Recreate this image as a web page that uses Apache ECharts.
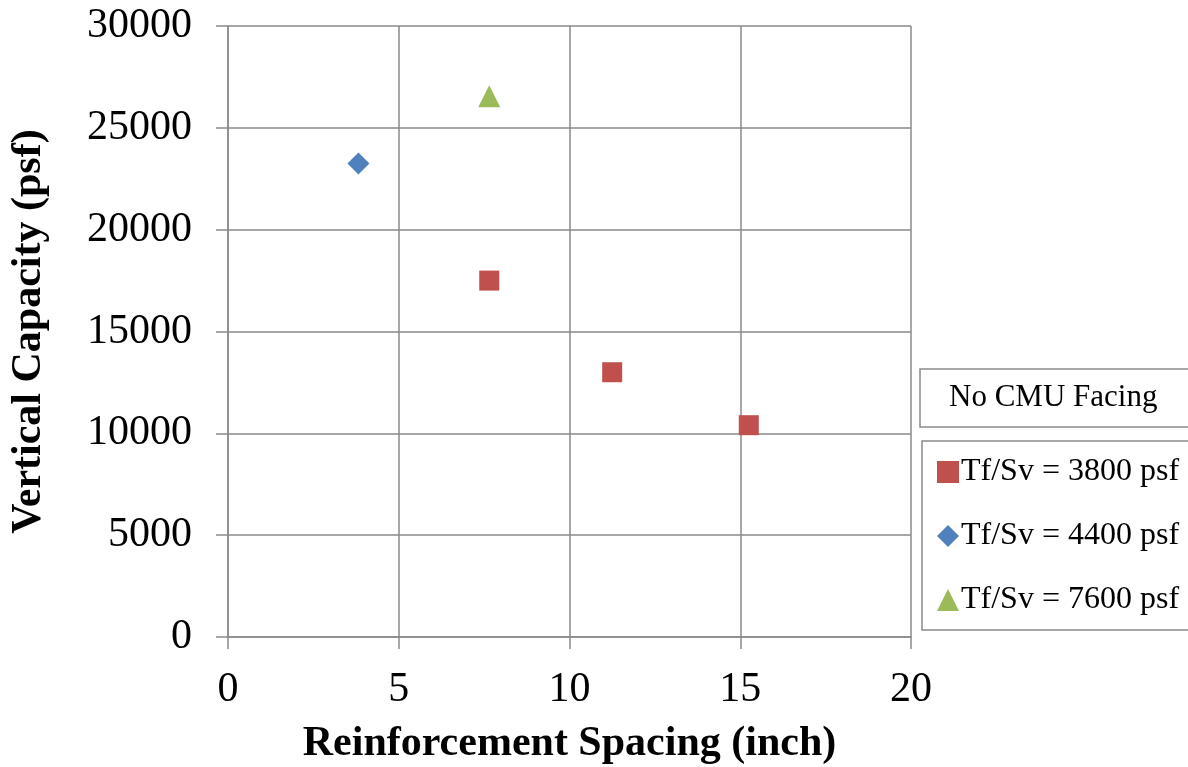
<!DOCTYPE html>
<html>
<head>
<meta charset="utf-8">
<script src="https://cdn.jsdelivr.net/npm/echarts@6/dist/echarts.min.js"></script>
<style>html,body{margin:0;padding:0;background:#fff;}#c{width:1188px;height:767px;}</style>
</head>
<body>
<div id="c"></div>
<script>
const seriesNames = ['Tf/Sv = 3800 psf', 'Tf/Sv = 4400 psf', 'Tf/Sv = 7600 psf'];
const s3800 = [[7.65, 17500], [11.25, 13000], [15.25, 10400]];
const s4400 = [[3.82, 23250]];
const s7600 = [[7.65, 26550]];
const xTicks = [0, 5, 10, 15, 20];
const yTicks = [0, 5000, 10000, 15000, 20000, 25000, 30000];

const font = '"Liberation Serif", "Times New Roman", serif';
const gridColor = '#8a8a8a';
const chart = echarts.init(document.getElementById('c'));
chart.setOption({
  animation: false,
  backgroundColor: '#fff',
  grid: { left: 228, right: 277, top: 26, bottom: 130, containLabel: false, outerBoundsMode: 'none' },
  title: {
    text: 'No CMU Facing',
    left: 920, top: 369,
    padding: [13, 40, 13, 29],
    borderColor: gridColor, borderWidth: 1.5,
    textStyle: { fontFamily: font, fontSize: 31, fontWeight: 'normal', color: '#000', lineHeight: 32 }
  },
  legend: {
    orient: 'vertical',
    left: 922, top: 441,
    padding: [15, 40, 14, 15],
    itemGap: 32,
    itemWidth: 22, itemHeight: 22,
    borderColor: gridColor, borderWidth: 1.5,
    textStyle: { fontFamily: font, fontSize: 32, color: '#000', lineHeight: 32, padding: [0, 0, 0, -3] },
    data: seriesNames
  },
  xAxis: {
    type: 'value', min: xTicks[0], max: xTicks[xTicks.length - 1], interval: 5,
    name: 'Reinforcement Spacing (inch)', nameLocation: 'middle', nameGap: 86,
    nameTextStyle: { fontFamily: font, fontSize: 42, fontWeight: 'bold', color: '#000' },
    axisLine: { show: true, onZero: false, lineStyle: { color: gridColor, width: 1.5 } },
    axisTick: { show: true, length: 12, lineStyle: { color: gridColor, width: 1.5 } },
    axisLabel: { fontFamily: font, fontSize: 42, color: '#000', margin: 32, formatter: v => String(v) },
    splitLine: { show: true, lineStyle: { color: gridColor, width: 1.5 } }
  },
  yAxis: {
    type: 'value', min: yTicks[0], max: yTicks[yTicks.length - 1], interval: 5000,
    name: 'Vertical Capacity (psf)', nameLocation: 'middle', nameGap: 178,
    nameTextStyle: { fontFamily: font, fontSize: 42, fontWeight: 'bold', color: '#000' },
    axisLine: { show: true, lineStyle: { color: gridColor, width: 1.5 } },
    axisTick: { show: true, length: 12, lineStyle: { color: gridColor, width: 1.5 } },
    axisLabel: { fontFamily: font, fontSize: 42, color: '#000', margin: 36, formatter: v => String(v) },
    splitLine: { show: true, lineStyle: { color: gridColor, width: 1.5 } }
  },
  series: [
    { name: seriesNames[0], type: 'scatter', symbol: 'rect', symbolSize: 20, data: s3800, itemStyle: { color: '#C0504D', opacity: 1 } },
    { name: seriesNames[1], type: 'scatter', symbol: 'diamond', symbolSize: 22, data: s4400, itemStyle: { color: '#4F81BD', opacity: 1 } },
    { name: seriesNames[2], type: 'scatter', symbol: 'triangle', symbolSize: 22, data: s7600, itemStyle: { color: '#9BBB59', opacity: 1 } }
  ]
});
</script>
</body>
</html>
